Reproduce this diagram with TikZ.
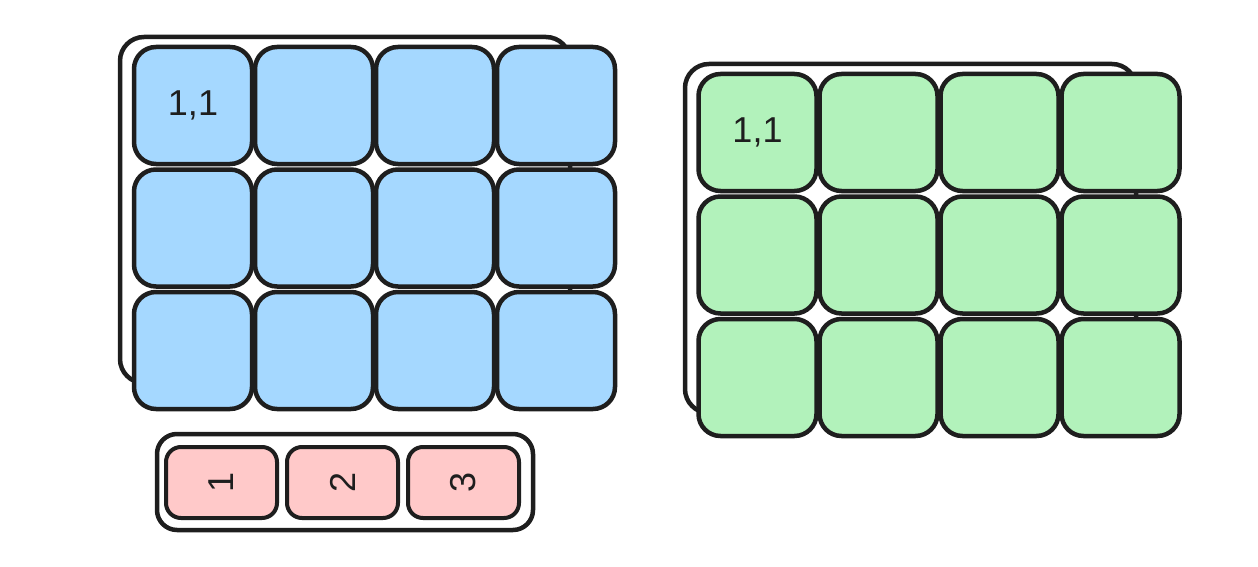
\documentclass[tikz,border=0pt]{standalone}
\usepackage{fontspec}
\setmainfont{Liberation Sans}
\usepackage{xcolor}
\usepackage{graphicx}
\usepackage{tikz}
\usetikzlibrary{positioning}

\definecolor{inkgray}{HTML}{1E1E1E}
\definecolor{cellblue}{HTML}{A5D8FF}
\definecolor{cellgreen}{HTML}{B2F2BB}
\definecolor{cellred}{HTML}{FFC9C9}

\begin{document}
\begin{tikzpicture}[x=0.5pt,y=-0.5pt]
% 1 px = 0.5pt, y runs downwards
    \def\CELLW{59pt} %width of grid cells
    \def\CELLH{58.5pt}
    \def\CGAPX{-0.75pt} % strokes of neighbours overlap
    \def\CGAPY{0.5pt} %
    \def\TAGW{55.5pt} %width of index cells
    \def\TAGH{35.5pt}
    \def\TAGGAP{3pt}

    \tikzset{
      backbox/.style={draw=inkgray, fill=white, line width=2.25pt,
        rounded corners=12pt, inner sep=0pt},
      cell/.style={draw=inkgray, line width=2.25pt, outer sep=1.125pt,
        rounded corners=11pt,
        minimum width=\CELLW, minimum height=\CELLH, inner sep=0pt,
        text=inkgray, font=\fontsize{18}{20}\selectfont},
      bluecell/.style={cell, fill=cellblue},
      greencell/.style={cell, fill=cellgreen},
      tagcell/.style={cell, fill=cellred, line width=2pt, outer sep=1pt,
        rounded corners=7.5pt, minimum width=\TAGW, minimum height=\TAGH},
    }

    \useasboundingbox (0,0) rectangle (1258,567);

    % BLUE GRID
    \node[backbox, minimum width=225pt, minimum height=173pt]
        (bluetray) at (345,210) {};
    \node[bluecell] (b11) at (193,105.5) {1,1};
    \node[bluecell, right=\CGAPX of b11] (b12) {};
    \node[bluecell, right=\CGAPX of b12] (b13) {};
    \node[bluecell, right=\CGAPX of b13] (b14) {};
    \node[bluecell, below=\CGAPY of b11] (b21) {};
    \node[bluecell, right=\CGAPX of b21] (b22) {};
    \node[bluecell, right=\CGAPX of b22] (b23) {};
    \node[bluecell, right=\CGAPX of b23] (b24) {};
    \node[bluecell, below=\CGAPY of b21] (b31) {};
    \node[bluecell, right=\CGAPX of b31] (b32) {};
    \node[bluecell, right=\CGAPX of b32] (b33) {};
    \node[bluecell, right=\CGAPX of b33] (b34) {};

    % GREEN GRID
    \node[backbox, minimum width=225.5pt, minimum height=174.5pt]
        (greentray) at (910.5,238.5) {};
    \node[greencell] (g11) at (757.5,132.5) {1,1};
    \node[greencell, right=\CGAPX of g11] (g12) {};
    \node[greencell, right=\CGAPX of g12] (g13) {};
    \node[greencell, right=\CGAPX of g13] (g14) {};
    \node[greencell, below=\CGAPY of g11] (g21) {};
    \node[greencell, right=\CGAPX of g21] (g22) {};
    \node[greencell, right=\CGAPX of g22] (g23) {};
    \node[greencell, right=\CGAPX of g23] (g24) {};
    \node[greencell, below=\CGAPY of g21] (g31) {};
    \node[greencell, right=\CGAPX of g31] (g32) {};
    \node[greencell, right=\CGAPX of g32] (g33) {};
    \node[greencell, right=\CGAPX of g33] (g34) {};

    % RED INDEX ROW
    \node[backbox, rounded corners=10pt, minimum width=188pt, minimum height=48pt]
        (redtray) at (345,482) {};
    \node[tagcell] (t1) at (221.5,482.5) {\rotatebox{90}{1}};
    \node[tagcell, right=\TAGGAP of t1] (t2) {\rotatebox{90}{2}};
    \node[tagcell, right=\TAGGAP of t2] (t3) {\rotatebox{90}{3}};

\end{tikzpicture}
\end{document}
